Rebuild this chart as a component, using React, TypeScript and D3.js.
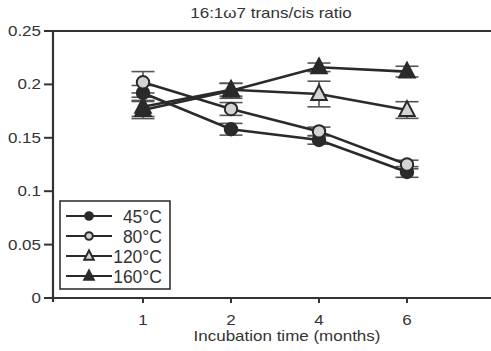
import React from "react";
import * as d3 from "d3";

const months = [1, 2, 4, 6];
const yTicks = [0, 0.05, 0.1, 0.15, 0.2, 0.25];
const seriesNames = ["45°C", "80°C", "120°C", "160°C"];
const v45 = [0.192, 0.158, 0.148, 0.118];
const e45 = [0.007, 0.0055, 0.004, 0.005];
const v80 = [0.202, 0.177, 0.156, 0.125];
const e80 = [0.01, 0.006, 0.004, 0.004];
const v120 = [0.179, 0.195, 0.191, 0.176];
const e120 = [0.009, 0.006, 0.012, 0.0078];
const v160 = [0.176, 0.194, 0.216, 0.212];
const e160 = [0.008, 0.007, 0.004, 0.005];

const DARK = "#2a2a2a";
const LIGHT = "#d4d4d4";

type Series = { name: string; vals: number[]; errs: number[]; shape: "circle" | "triangle"; filled: boolean };
const series: Series[] = [
  { name: seriesNames[0], vals: v45, errs: e45, shape: "circle", filled: true },
  { name: seriesNames[1], vals: v80, errs: e80, shape: "circle", filled: false },
  { name: seriesNames[2], vals: v120, errs: e120, shape: "triangle", filled: false },
  { name: seriesNames[3], vals: v160, errs: e160, shape: "triangle", filled: true },
];
const drawOrder = [2, 3, 0, 1];

function Marker({ s, x, y, size }: { s: Series; x: number; y: number; size: number }) {
  const fill = s.filled ? DARK : LIGHT;
  if (s.shape === "circle") {
    return <circle cx={x} cy={y} r={size} fill={fill} stroke={DARK} strokeWidth={2} />;
  }
  const h = size * 2.4;
  const w = size * 1.25;
  const p = `M${x},${y - h * 0.6} L${x + w},${y + h * 0.4} L${x - w},${y + h * 0.4} Z`;
  return <path d={p} fill={fill} stroke={DARK} strokeWidth={2} strokeLinejoin="miter" />;
}

export default function App() {
  const W = 491, H = 351;
  const x = d3.scalePoint<number>().domain(months).range([55, 495]).padding(1);
  const y = d3.scaleLinear().domain([0, 0.25]).range([298, 31]);
  const line = d3
    .line<number>()
    .x((_, i) => x(months[i]) as number)
    .y((d) => y(d));
  const font = "Arial, 'Liberation Sans', sans-serif";
  const sq = 0.82;
  return (
    <svg width={W} height={H} style={{ position: "absolute", left: 0, top: 0 }}>
      <rect width={W} height={H} fill="#fff" />
      <text transform={`translate(271,18) scale(1,${sq})`} textAnchor="middle" fontFamily={font} fontSize={17} fill="#333">
        16:1ω7 trans/cis ratio
      </text>
      {/* frame */}
      <line x1={53} x2={491} y1={y(0.25)} y2={y(0.25)} stroke="#333" strokeWidth={2.2} />
      <line x1={53} x2={53} y1={y(0.25) - 1} y2={302} stroke="#333" strokeWidth={2.2} />
      <line x1={44} x2={491} y1={y(0)} y2={y(0)} stroke="#333" strokeWidth={2.2} />
      {yTicks.map((t) => (
        <g key={t}>
          <line x1={44} x2={53} y1={y(t)} y2={y(t)} stroke="#333" strokeWidth={2} />
          <text
            transform={`translate(41,${y(t) + 5}) scale(1,${sq})`}
            textAnchor="end"
            fontFamily={font}
            fontSize={17}
            fill="#333"
          >
            {t === 0 ? "0" : String(t)}
          </text>
        </g>
      ))}
      {months.map((m) => (
        <g key={m}>
          <line x1={x(m)} x2={x(m)} y1={y(0)} y2={y(0) + 5} stroke="#333" strokeWidth={2} />
          <text
            transform={`translate(${x(m)},325) scale(1,${sq})`}
            textAnchor="middle"
            fontFamily={font}
            fontSize={17}
            fill="#333"
          >
            {m}
          </text>
        </g>
      ))}
      <text transform={`translate(287,341) scale(1,${sq})`} textAnchor="middle" fontFamily={font} fontSize={17} fill="#333">
        Incubation time (months)
      </text>
      {/* error bars */}
      {series.map((s) =>
        s.vals.map((v, i) => {
          const cx = x(months[i]) as number;
          return (
            <g key={s.name + i} stroke="#555" strokeWidth={1.6}>
              <line x1={cx} x2={cx} y1={y(v - s.errs[i])} y2={y(v + s.errs[i])} />
              <line x1={cx - 11.5} x2={cx + 11.5} y1={y(v - s.errs[i])} y2={y(v - s.errs[i])} />
              <line x1={cx - 11.5} x2={cx + 11.5} y1={y(v + s.errs[i])} y2={y(v + s.errs[i])} />
            </g>
          );
        })
      )}
      {/* lines */}
      {series.map((s) => (
        <path key={s.name} d={line(s.vals) ?? ""} fill="none" stroke={DARK} strokeWidth={2.6} />
      ))}
      {/* markers */}
      {drawOrder.map((k) =>
        series[k].vals.map((v, i) => (
          <Marker key={k + "-" + i} s={series[k]} x={x(months[i]) as number} y={y(v)} size={6.2} />
        ))
      )}
      {/* legend */}
      <rect x={60} y={201} width={110} height={88} fill="#fff" stroke="#333" strokeWidth={1.6} />
      {series.map((s, i) => {
        const ly = 216 + i * 20;
        return (
          <g key={s.name}>
            <line x1={66} x2={112} y1={ly} y2={ly} stroke={DARK} strokeWidth={2} />
            <Marker s={s} x={89} y={ly} size={3.8} />
            <text x={162} y={ly + 6.5} textAnchor="end" fontFamily={font} fontSize={17.5} fill="#333">
              {s.name}
            </text>
          </g>
        );
      })}
    </svg>
  );
}
